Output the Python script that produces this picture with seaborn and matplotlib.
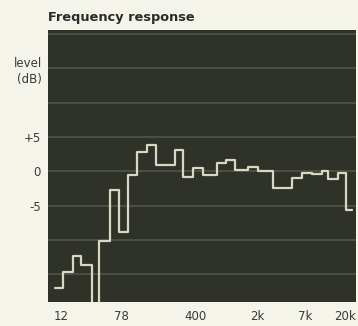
import matplotlib
matplotlib.use("Agg")
import matplotlib.pyplot as plt
import matplotlib.ticker as mticker
import numpy as np
import pandas as pd
import seaborn as sns

# step edges (Hz) and the level (dB) held between consecutive edges
edge_hz = [10.1, 12.3, 16.0, 19.7, 26.3, 32.1, 42.5, 53.8, 68.7, 85.6,
           113.5, 141.8, 233, 290, 377, 490, 696, 888, 1124, 1579,
           2053, 3064, 4963, 6447, 8379, 10890, 12944, 16820, 20580, 23890]
level_db = [-17.0, -14.6, -12.3, -13.6, -30.0, -10.2, -2.7, -8.8, -0.5, 2.8,
            3.9, 0.9, 3.1, -0.8, 0.5, -0.5, 1.3, 1.6, 0.2, 0.7,
            0.1, -2.4, -1.0, -0.2, -0.4, 0.0, -1.1, -0.3, -5.6]

# axis ticks as printed on the chart
xtick_hz = [12, 58, 400, 2000, 7000, 20000]
xtick_labels = ["12", "78", "400", "2k", "7k", "20k"]
ytick_db = [5, 0, -5]
ytick_labels = ["+5", "0", "-5"]
grid_db = [20, 15, 10, 5, 0, -5, -10, -15]

df = pd.DataFrame({"freq": edge_hz, "level": level_db + [level_db[-1]]})

sns.set_style("dark", {
    "axes.facecolor": "#2f3229",
    "figure.facecolor": "#f4f4ea",
    "axes.edgecolor": "#2f3229",
})
plt.rcParams["font.family"] = ["DejaVu Sans"]

fig = plt.figure(figsize=(3.58, 3.26), dpi=100)
ax = fig.add_axes([0.134, 0.074, 0.86, 0.834])

sns.lineplot(data=df, x="freq", y="level", ax=ax, drawstyle="steps-post",
             color="#d8d8c2", linewidth=1.6)

ax.set_xscale("log")
ax.set_xlim(8.4, 26700)
ax.set_ylim(-19, 20.6)

ax.set_xticks(xtick_hz)
ax.set_xticklabels(xtick_labels)
ax.xaxis.set_minor_locator(mticker.NullLocator())
ax.tick_params(axis="x", length=0, pad=6, labelsize=8.5, labelcolor="#3a3a3a")

ax.set_yticks(ytick_db)
ax.set_yticklabels(ytick_labels)
ax.set_yticks(grid_db, minor=True)
ax.tick_params(axis="y", which="major", length=4, width=2, color="#c8c8c0",
               pad=1, labelsize=8.5, labelcolor="#3a3a3a")
ax.tick_params(axis="y", which="minor", length=0)
ax.yaxis.grid(True, which="both", color="#4c4f44", linewidth=1.4)
ax.xaxis.grid(False)

ax.set_xlabel("")
ax.set_ylabel("")
for s in ax.spines.values():
    s.set_visible(False)

fig.text(0.134, 0.947, "Frequency response", fontsize=9.3, fontweight="bold",
         color="#2a2a2a", ha="left", va="center")
fig.text(0.117, 0.782, "level\n(dB)", fontsize=8.5, color="#3a3a3a",
         ha="right", va="center", linespacing=1.3)

fig.savefig("out.png", dpi=100, facecolor=fig.get_facecolor())
